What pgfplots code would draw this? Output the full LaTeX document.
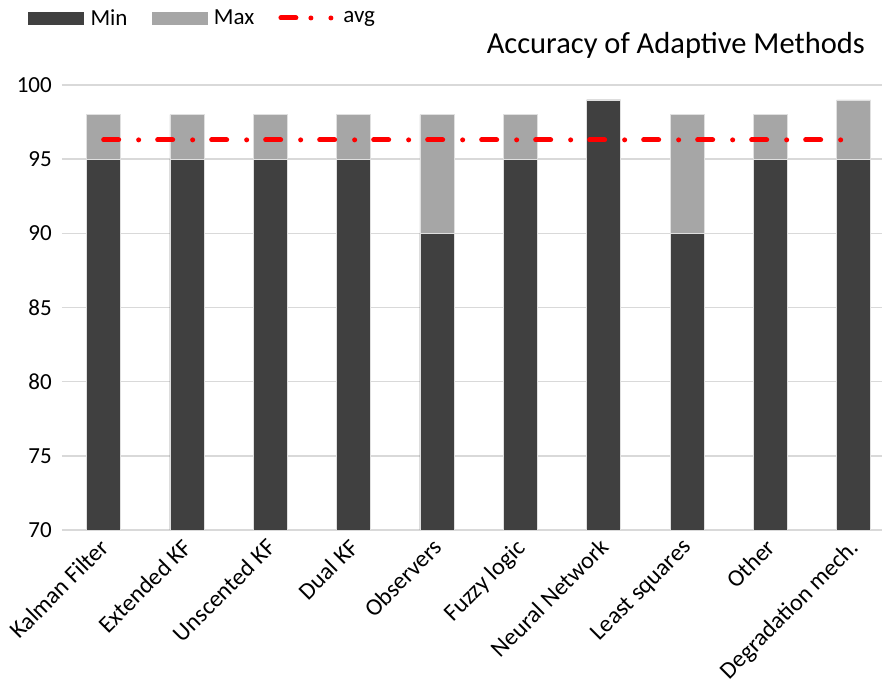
\documentclass[border=0pt]{standalone}
\usepackage{pgfplots}
\pgfplotsset{compat=1.18}
\usepackage{fontspec}
\setmainfont{Carlito}
\definecolor{dk}{HTML}{404040}
\definecolor{lt}{HTML}{A6A6A6}
\definecolor{gr}{HTML}{D9D9D9}
\pgfplotstableread{
x min max
0 95 98
1 95 98
2 95 98
3 95 98
4 90 98
5 95 98
6 99 99
7 90 98
8 95 98
9 95 99
}\bars
\pgfplotstableread{
x avg
0 96.3
9 96.3
}\avgline
\begin{document}
\begin{tikzpicture}
\useasboundingbox (-62pt,-149pt) rectangle (822pt,530pt);
\begin{axis}[
  at={(0pt,0pt)}, anchor=south west,
  scale only axis, width=820pt, height=445pt,
  xmin=-0.5, xmax=9.34, ymin=70, ymax=100,
  ytick={70,75,...,100},
  xtick={0,...,9},
  xticklabels={Kalman Filter,Extended KF,Unscented KF,Dual KF,Observers,Fuzzy logic,Neural Network,Least squares,Other,Degradation mech.},
  axis line style={draw=none},
  major tick length=0pt,
  ymajorgrids, grid style={gr, line width=1.5pt},
  /pgf/number format/assume math mode=true,
  yticklabel style={font=\fontsize{23}{27}\selectfont, anchor=east, inner sep=0pt, xshift=-10pt},
  xticklabel style={font=\fontsize{24}{28}\selectfont, rotate=45, anchor=north east, inner sep=0pt, xshift=-8.8pt, yshift=-1.3pt},
  legend columns=-1,
  legend style={at={(-0.0415,1.1506)}, anchor=west, draw=none, fill=none, inner sep=0pt,
    font=\fontsize{23}{27}\selectfont, nodes={inner sep=0pt},
    /tikz/every odd column/.append style={column sep=7pt},
    /tikz/every even column/.append style={column sep=24pt}},
]
\addlegendimage{legend image code/.code={\fill[dk] (0pt,-6pt) rectangle (55pt,6pt);}}
\addlegendentry{Min}
\addlegendimage{legend image code/.code={\fill[lt] (0pt,-6pt) rectangle (55pt,6pt);}}
\addlegendentry{Max}
\addlegendimage{legend image code/.code={\draw[red, line width=5pt, line cap=round, dash pattern=on 15pt off 15pt on 0pt off 20pt on 0pt off 20pt] (2.5pt,0pt) -- (55.5pt,0pt);}}
\addlegendentry{avg}
\addplot[ybar, bar width=34pt, bar shift=0pt, fill=lt, draw=white!88!black, line width=0.6pt, forget plot] table[x=x, y=max] {\bars};
\addplot[ybar, bar width=34pt, bar shift=0pt, fill=dk, draw=white!88!black, line width=0.6pt, forget plot] table[x=x, y=min] {\bars};
\addplot[red, line width=5pt, line cap=round, dash pattern=on 15pt off 20pt on 0pt off 19pt, forget plot] table[x=x, y=avg] {\avgline};
\end{axis}
\node[anchor=east, font=\fontsize{30.5}{36}\selectfont, inner sep=0pt] at (803pt,485pt) {Accuracy of Adaptive Methods};
\end{tikzpicture}
\end{document}
